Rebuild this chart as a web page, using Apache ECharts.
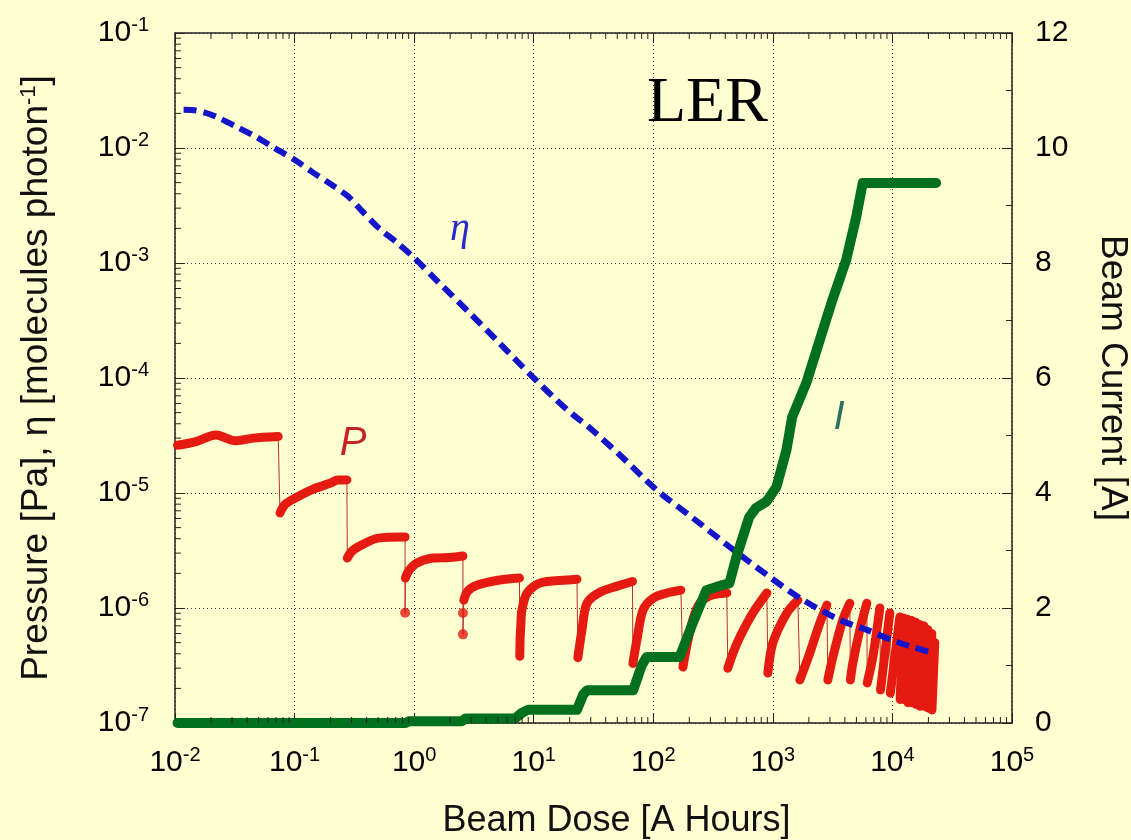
<!DOCTYPE html>
<html><head><meta charset="utf-8">
<script src="https://cdn.jsdelivr.net/npm/echarts@6/dist/echarts.min.js"></script>
<style>html,body{margin:0;padding:0;background:#ffffd2;}#c{width:1131px;height:840px;}</style>
</head><body><div id="c"></div>
<script>
// ---- data ----
const etaPoints = [[0.0118,0.0215],[0.0139,0.0214],[0.0175,0.0204],[0.0224,0.0186],[0.033,0.0152],[0.047,0.0126],[0.068,0.0100],[0.1,0.0079],[0.14,0.0062],[0.21,0.0047],[0.28,0.0038],[0.37,0.0028],[0.51,0.0020],[0.72,0.0015],[1.0,0.00111],[1.6,0.00068],[2.9,0.00037],[5.2,0.0002],[10,0.0001],[15.6,6.4e-5],[21.3,4.8e-5],[29.5,3.67e-5],[52.6,2.14e-5],[107,1.06e-5],[214,6.07e-6],[437,3.39e-6],[892,1.94e-6],[1682,1.22e-6],[3630,7.87e-7],[6110,6.45e-7],[10900,5.06e-7],[21800,4.06e-7]];

const currentPoints = [[0.0105,0.0],[0.85,0.0],[0.9,0.03],[2.5,0.03],[2.7,0.08],[7.0,0.08],[8.0,0.18],[9.0,0.23],[23,0.23],[26,0.5],[28,0.57],[68,0.57],[80,1.0],[88,1.15],[166,1.15],[175,1.27],[214,1.74],[278,2.31],[378,2.40],[433,2.43],[496,2.89],[634,3.58],[722,3.74],[883,3.85],[1070,4.1],[1300,4.75],[1450,5.32],[1900,5.91],[3150,7.36],[4100,8.05],[4980,8.8],[5640,9.39],[23200,9.39]];

const pCycles = [
 [[0.0105,2.6e-5],[0.015,2.8e-5],[0.022,3.2e-5],[0.032,2.85e-5],[0.045,3.0e-5],[0.073,3.1e-5]],
 [[0.0755,6.7e-6],[0.082,7.8e-6],[0.095,8.7e-6],[0.14,1.07e-5],[0.2,1.22e-5],[0.23,1.3e-5],[0.274,1.3e-5]],
 [[0.276,2.72e-6],[0.3,3.1e-6],[0.34,3.4e-6],[0.5,4.05e-6],[0.84,4.14e-6]],
 [[0.845,1.82e-6],[0.9,2.1e-6],[1.055,2.46e-6],[1.44,2.72e-6],[2.0,2.75e-6],[2.56,2.83e-6]],
 [[2.6,1.17e-6],[2.8,1.4e-6],[3.35,1.58e-6],[5.2,1.75e-6],[7.6,1.82e-6]],
 [[7.65,3.8e-7],[7.7,5.5e-7],[7.8,7.0e-7],[7.95,9.5e-7],[8.8,1.35e-6],[11.3,1.65e-6],[19,1.75e-6],[23,1.78e-6]],
 [[23.4,3.7e-7],[25.3,6.4e-7],[27.9,1.1e-6],[35.7,1.37e-6],[50,1.55e-6],[67,1.7e-6]],
 [[67.5,3.3e-7],[73,5.3e-7],[82,9.6e-7],[100,1.22e-6],[130,1.35e-6],[170,1.43e-6]],
 [[177,3.07e-7],[190,4.6e-7],[215,8.0e-7],[245,1.1e-6],[297,1.28e-6],[412,1.35e-6]],
 [[420,3.0e-7],[470,4.2e-7],[530,5.6e-7],[680,9.05e-7],[891,1.35e-6]],
 [[908,2.72e-7],[1000,4.97e-7],[1309,9.05e-7],[1618,1.17e-6]],
 [[1682,2.37e-7],[2038,4.07e-7],[2472,7.41e-7],[2830,1.06e-6]],
 [[2884,2.37e-7],[3176,3.75e-7],[3848,7.87e-7],[4404,1.1e-6]],
 [[4450,2.37e-7],[4667,3.33e-7],[5335,6.44e-7],[6110,1.1e-6]],
 [[6150,2.23e-7],[6856,3.75e-7],[7850,1.0e-6]],
 [[7950,1.94e-7],[9510,9.05e-7]],
 [[9600,1.82e-7],[11530,8.35e-7]],
 [[11600,1.6e-7],[12400,8.2e-7]],
 [[12450,1.6e-7],[13450,8.0e-7]],
 [[13500,1.5e-7],[14530,7.8e-7]],
 [[14600,1.5e-7],[15700,7.5e-7]],
 [[15750,1.45e-7],[16950,7.2e-7]],
 [[17000,1.4e-7],[18320,7.0e-7]],
 [[18400,1.4e-7],[19780,6.5e-7]],
 [[19850,1.35e-7],[21350,6.0e-7]],
 [[21400,1.3e-7],[22600,5.0e-7]]
];
const pDipDots = [[0.84,9.1e-7],[2.56,9.05e-7],[2.56,5.9e-7]];

const decades = [-2,-1,0,1,2,3,4];
const yDecades = [-7,-6,-5,-4,-3,-2];
const minorMult = [2,3,4,5,6,7,8,9];

// ---- build ----
const F = "'Liberation Sans', Arial, sans-serif";
const xMinor = []; decades.forEach(d => minorMult.forEach(m => xMinor.push(m*Math.pow(10,d))));
const yMinor = []; yDecades.forEach(d => minorMult.forEach(m => yMinor.push(m*Math.pow(10,d))));
const tickData = xMinor.map(v => [v, 1e-4, 0]).concat(yMinor.map(v => [1, v, 1]));

const thin = [];
pCycles.forEach((c, i) => {
  c.forEach(p => thin.push(p));
  const endX = c[c.length-1][0];
  const next = pCycles[i+1];
  if (next) pDipDots.filter(d => d[0] >= endX && d[0] < next[0][0]).sort((a,b)=>b[1]-a[1]).forEach(d => thin.push(d));
});

const RED = '#e51a10';
const series = [];
series.push({type:'line', data:thin, showSymbol:false, lineStyle:{color:'#b8302a', width:1}, z:2, silent:true});
pCycles.forEach(c => series.push({type:'line', data:c, smooth:0.3, showSymbol:false, lineStyle:{color:RED, width:9, cap:'round', join:'round'}, z:3, silent:true}));
series.push({type:'scatter', data:pDipDots, symbol:'circle', symbolSize:10, itemStyle:{color:RED}, z:3, silent:true});
series.push({type:'line', data:etaPoints, smooth:0.3, showSymbol:false, lineStyle:{color:'#1414c8', width:6, type:[13,7], cap:'butt'}, z:4, silent:true});
series.push({type:'line', yAxisIndex:1, data:currentPoints, showSymbol:false, lineStyle:{color:'#00701f', width:10, cap:'round', join:'round'}, z:5, silent:true});
series.push({type:'custom', data:tickData, encode:{x:0, y:1}, z:6, silent:true, clip:false,
  renderItem: function(params, api){
    const cs = params.coordSys;
    const st = {stroke:'#222', lineWidth:1};
    if (api.value(2) === 0) {
      const px = api.coord([api.value(0), 1e-4])[0];
      return {type:'group', children:[
        {type:'line', shape:{x1:px, y1:cs.y+cs.height, x2:px, y2:cs.y+cs.height-6}, style:st},
        {type:'line', shape:{x1:px, y1:cs.y, x2:px, y2:cs.y+6}, style:st}]};
    }
    const py = api.coord([1, api.value(1)])[1];
    return {type:'line', shape:{x1:cs.x, y1:py, x2:cs.x+6, y2:py}, style:st};
  }});

const expLabel = v => '{b|10}{s|' + Math.round(Math.log10(v)) + '}';
const labRich = {b:{fontSize:30, lineHeight:36, fontFamily:F, color:'#000'}, s:{fontSize:20, fontFamily:F, color:'#000', verticalAlign:'top'}};
const axisLineStyle = {show:true, onZero:false, lineStyle:{color:'#222', width:1.5}};
const gridLine = {show:true, lineStyle:{color:'#333', width:1, type:[1,3]}};

const option = {
  backgroundColor:'#ffffd2',
  animation:false,
  grid:{left:175, right:119, top:33, bottom:117, containLabel:false, outerBoundsMode:'none'},
  xAxis:[
    {type:'log', logBase:10, min:0.01, max:1e5, position:'bottom', axisLine:axisLineStyle,
     axisTick:{inside:true, length:10, lineStyle:{color:'#222'}},
     axisLabel:{formatter:expLabel, rich:labRich, margin:22},
     splitLine:gridLine,
     name:'Beam Dose [A Hours]', nameLocation:'middle', nameGap:80,
     nameTextStyle:{fontSize:36, fontFamily:F, color:'#111', padding:[0,0,0,46]}},
    {type:'log', logBase:10, min:0.01, max:1e5, position:'top', axisLine:axisLineStyle,
     axisTick:{inside:true, length:10, lineStyle:{color:'#222'}}, axisLabel:{show:false}, splitLine:{show:false}}
  ],
  yAxis:[
    {type:'log', logBase:10, min:1e-7, max:1e-1, position:'left', axisLine:axisLineStyle,
     axisTick:{inside:true, length:10, lineStyle:{color:'#222'}},
     axisLabel:{formatter:expLabel, rich:labRich, margin:26},
     splitLine:gridLine,
     name:'Pressure [Pa], η [molecules photon{s|-1}]', nameLocation:'middle', nameGap:120,
     nameTextStyle:{fontSize:37, fontFamily:F, color:'#111', rich:{s:{fontSize:22, fontFamily:F, color:'#111', verticalAlign:'top'}}}},
    {type:'value', min:0, max:12, interval:2, position:'right', axisLine:axisLineStyle,
     axisTick:{inside:true, length:10, lineStyle:{color:'#222'}},
     minorTick:{show:true, splitNumber:2, length:6, lineStyle:{color:'#222'}},
     axisLabel:{fontSize:30, fontFamily:F, color:'#000', margin:23},
     splitLine:{show:false},
     name:'Beam Current [A]', nameLocation:'middle', nameGap:82, nameRotate:-90,
     nameTextStyle:{fontSize:37, fontFamily:F, color:'#111'}}
  ],
  graphic:[
    {type:'text', x:647, y:104, style:{text:'LER', font:'64px "Liberation Serif", serif', fill:'#000', verticalAlign:'middle', align:'left'}, z:10},
    {type:'text', x:460, y:229, style:{text:'η', font:'italic 40px "Liberation Serif", serif', fill:'#2a2ac8', verticalAlign:'middle', align:'center'}, z:10},
    {type:'text', x:353, y:444, style:{text:'P', font:'italic 40px "Liberation Sans", sans-serif', fill:'#c42424', verticalAlign:'middle', align:'center'}, z:10},
    {type:'text', x:839, y:418, style:{text:'I', font:'italic 40px "Liberation Sans Narrow", "Liberation Sans", sans-serif', fill:'#2e7060', verticalAlign:'middle', align:'center'}, z:10}
  ],
  series:series
};
const chart = echarts.init(document.getElementById('c'), null, {renderer:'canvas'});
chart.setOption(option);
</script>
</body></html>
